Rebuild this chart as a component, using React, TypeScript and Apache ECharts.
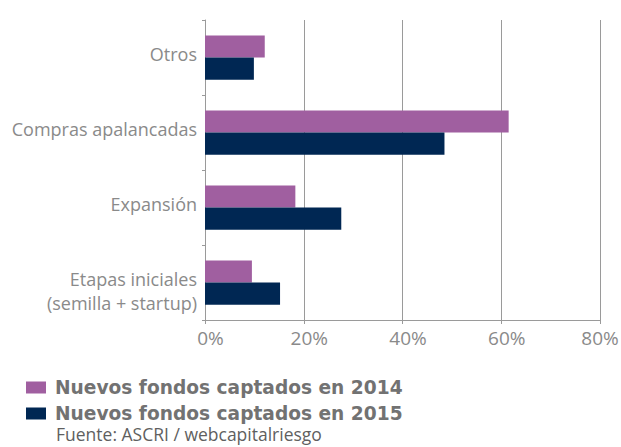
import React, { useEffect, useRef } from "react";
import * as echarts from "echarts";

const categories = ["Otros", "Compras apalancadas", "Expansión", "Etapas iniciales\n(semilla + startup)"];
const values2014 = [12.1, 61.5, 18.3, 9.5];
const values2015 = [9.9, 48.5, 27.6, 15.2];
const seriesNames = ["Nuevos fondos captados en 2014", "Nuevos fondos captados en 2015"];
const sourceText = "Fuente: ASCRI / webcapitalriesgo";

export default function App() {
  const ref = useRef<HTMLDivElement>(null);
  useEffect(() => {
    const chart = echarts.init(ref.current!, null, { renderer: "svg" });
    const tickFont = { fontFamily: "Open Sans", fontSize: 19, color: "#8a8a8a" };
    chart.setOption({
      animation: false,
      grid: { left: 205, top: 20, right: 21, bottom: 127, containLabel: false, outerBoundsMode: "none" },
      xAxis: {
        type: "value",
        min: 0,
        max: 80,
        interval: 20,
        axisLine: { show: true, lineStyle: { color: "#9a9a9a", width: 1 } },
        axisTick: { show: true, length: 4, lineStyle: { color: "#9a9a9a" } },
        splitLine: { show: true, lineStyle: { color: "#9a9a9a", width: 1 } },
        axisLabel: {
          margin: 8,
          formatter: (v: number) => (v >= 80 ? "{e|" + v + "%}" : "{n|" + v + "%}"),
          rich: {
            n: { ...tickFont, padding: [0, 0, 0, 11] },
            e: { ...tickFont, padding: [0, 0, 0, 0] },
          },
        },
      },
      yAxis: {
        type: "category",
        inverse: true,
        data: categories,
        axisLine: { show: true, lineStyle: { color: "#9a9a9a", width: 1 } },
        axisTick: { show: true, length: 3, lineStyle: { color: "#9a9a9a" } },
        axisLabel: {
          margin: 8,
          align: "right",
          formatter: (v: string) => {
            const lines = v.split("\n");
            if (lines.length > 1) {
              return "{t| }\n" + lines.map((l) => "{m|" + l + "}").join("\n");
            }
            return "{m|" + v + "}\n{s| }";
          },
          rich: {
            m: { fontFamily: "Open Sans", fontSize: 18, color: "#8a8a8a", lineHeight: 24 },
            s: { fontSize: 7, lineHeight: 7 },
            t: { fontSize: 17, lineHeight: 17 },
          },
        },
      },
      legend: {
        orient: "vertical",
        left: 21,
        top: 373,
        itemWidth: 20,
        itemHeight: 12,
        itemGap: 7,
        icon: "rect",
        data: seriesNames,
        textStyle: {
          fontFamily: "DejaVu Sans",
          fontWeight: "bold",
          fontSize: 18.6,
          color: "#727272",
          padding: [0, 0, 0, 4],
        },
      },
      graphic: [
        {
          type: "text",
          left: 56,
          top: 425,
          style: {
            text: sourceText,
            fontFamily: "Open Sans",
            fontSize: 17.5,
            lineHeight: 17,
            fill: "#5f5f5f",
          },
        },
      ],
      series: [
        {
          name: seriesNames[0],
          type: "bar",
          data: values2014,
          itemStyle: { color: "#a05fa0" },
          barGap: "0%",
          barCategoryGap: "41%",
        },
        {
          name: seriesNames[1],
          type: "bar",
          data: values2015,
          itemStyle: { color: "#002753" },
          barGap: "0%",
          barCategoryGap: "41%",
        },
      ],
    });
    return () => chart.dispose();
  }, []);
  return <div ref={ref} style={{ width: 621, height: 447, position: "absolute", left: 0, top: 0 }} />;
}
